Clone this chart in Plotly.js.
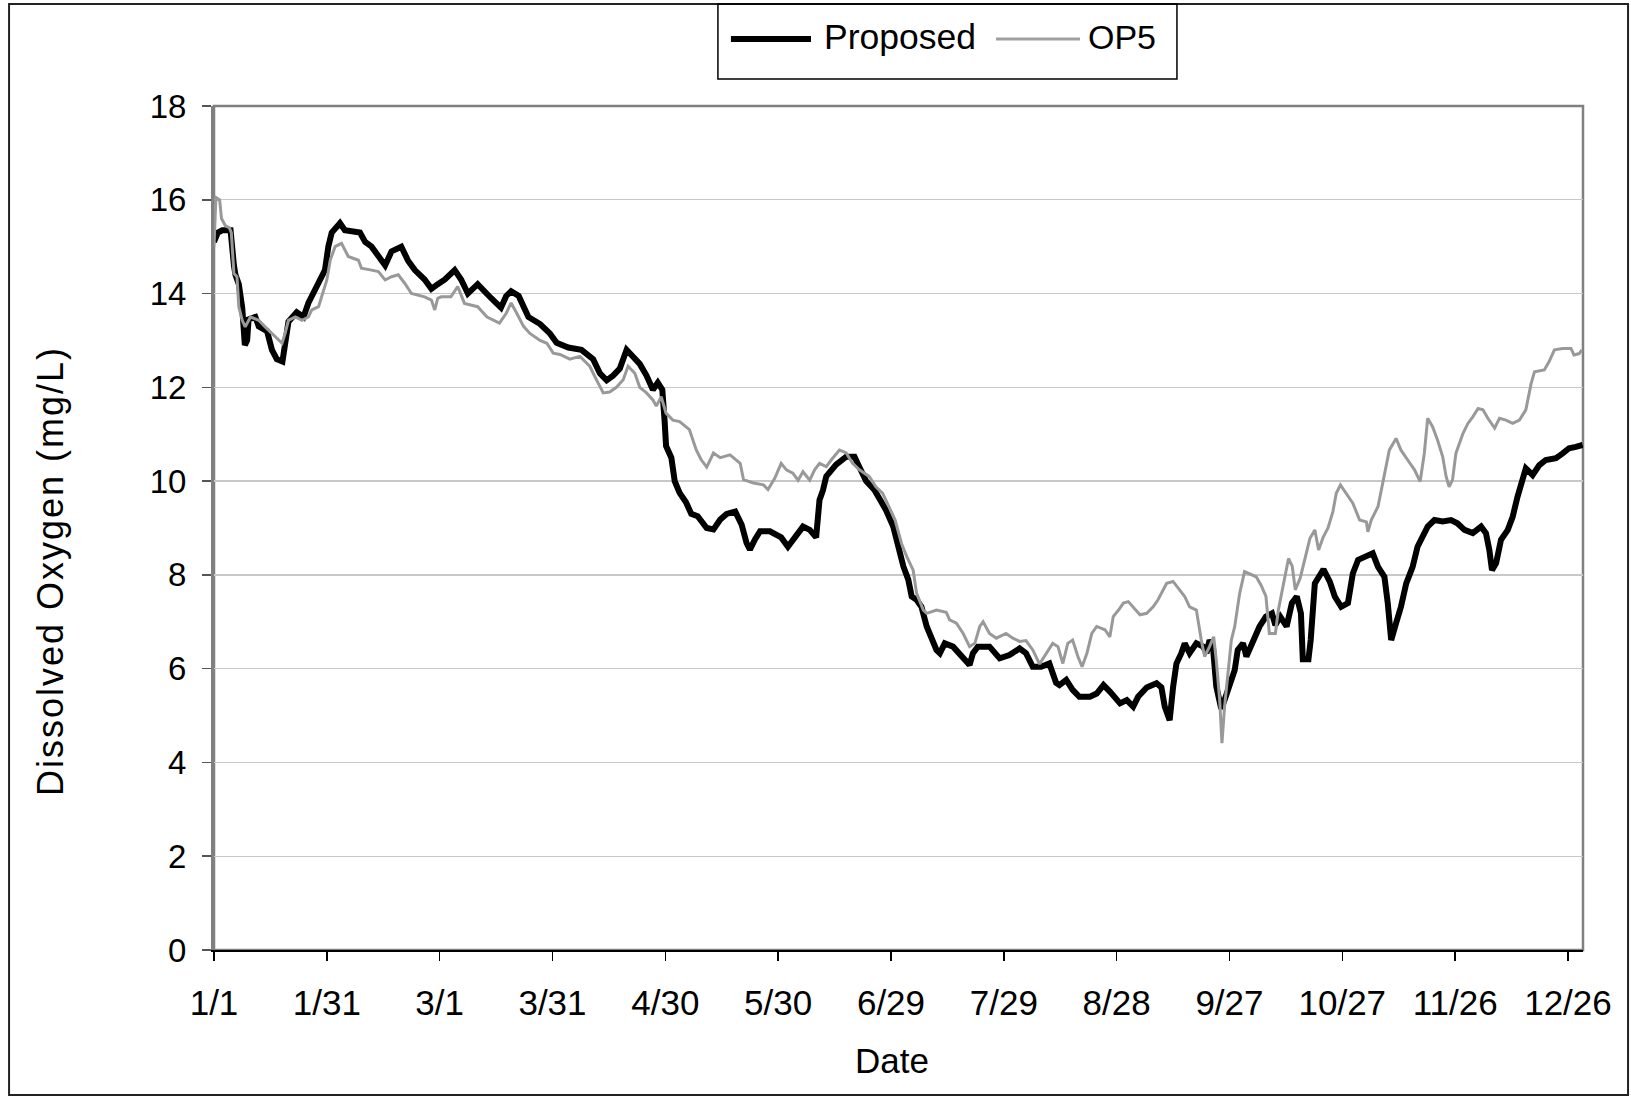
<!DOCTYPE html>
<html>
<head>
<meta charset="utf-8">
<script src="https://cdn.plot.ly/plotly-3.0.1.min.js"></script>
<style>
  html, body { margin: 0; padding: 0; background: #fff; overflow: hidden; }
  #chart { width: 1631px; height: 1098px; }
</style>
</head>
<body>
<div id="chart"></div>
<script>
// Day index from 1/1 (leap year) and dissolved oxygen (mg/L)
const proposedDay = [0,1.0,2.2,4.4,5.3,5.7,6.6,7.5,8.2,8.8,9.2,11.0,11.9,14.1,15.4,16.7,18.2,18.9,19.8,22.0,23.8,25.1,26.4,28.2,29.5,30.4,31.3,33.5,34.8,38.8,40.2,41.9,43.7,45.5,47.2,49.8,51.6,53.4,56.0,57.8,59.5,61.4,64.0,65.7,67.5,70.1,73.7,76.3,77.7,79.0,81.0,82.3,83.6,86.7,89.3,91.1,94.2,97.7,100.8,102.6,104.4,106.1,107.9,109.7,111.4,113.2,115.0,116.7,118.0,119.2,119.8,120.2,121.6,122.5,123.8,125.5,126.9,128.6,131.0,132.8,134.6,136.3,138.6,140.3,141.6,142.5,143.8,145.2,147.8,150.8,152.6,154.6,156.6,158.4,160.1,161.0,161.9,162.8,164.1,165.4,168.1,170.3,171.1,173.4,175.6,177.3,178.7,180.6,181.9,183.3,184.6,185.5,186.8,188.1,189.5,190.8,192.1,193.0,194.3,196.5,198.3,200.9,201.8,203.1,206.2,208.9,211.5,214.2,215.9,217.7,219.9,222.1,223.9,224.8,226.6,228.3,230.1,232.9,234.7,236.5,238.2,240.9,242.7,244.4,245.7,248.0,250.6,251.9,252.8,254.1,255.0,255.9,257.2,258.1,259.4,261.2,263.0,263.9,264.7,265.6,266.5,267.8,268.7,270.0,271.4,272.2,273.6,274.5,276.2,278.0,279.7,281.3,282.2,283.5,285.2,286.6,287.9,289.0,289.5,291.0,291.6,292.1,292.7,295.0,296.7,298.0,299.7,301.5,302.8,304.2,306.4,308.1,309.5,311.2,312.1,313.0,314.3,315.6,317.0,318.7,320.0,321.4,322.7,324.5,326.7,328.9,330.6,332.5,334.7,336.9,338.2,339.1,339.8,340.9,342.2,344.0,345.3,346.6,348.0,348.8,350.6,352.4,354.1,356.8,358.6,360.3,362.1,363.9];
const proposedDO = [15.1,15.3,15.35,15.35,14.6,14.4,14.2,13.7,12.9,13.0,13.45,13.5,13.3,13.2,12.8,12.6,12.55,13.0,13.4,13.6,13.5,13.8,14.0,14.3,14.5,15.0,15.3,15.5,15.35,15.3,15.1,15.0,14.8,14.6,14.9,15.0,14.7,14.5,14.3,14.1,14.2,14.3,14.5,14.3,14.0,14.2,13.9,13.7,13.95,14.05,13.95,13.7,13.5,13.35,13.15,12.95,12.85,12.8,12.6,12.3,12.15,12.25,12.4,12.8,12.65,12.5,12.25,11.95,12.1,11.95,11.3,10.75,10.5,10.0,9.75,9.55,9.3,9.25,9.0,8.97,9.18,9.3,9.35,9.07,8.68,8.54,8.75,8.93,8.93,8.8,8.6,8.8,9.03,8.96,8.8,9.6,9.8,10.1,10.24,10.35,10.52,10.52,10.38,10.0,9.81,9.6,9.38,9.03,8.6,8.18,7.9,7.54,7.47,7.32,6.9,6.68,6.4,6.33,6.54,6.47,6.29,6.08,6.33,6.47,6.47,6.22,6.29,6.43,6.33,6.04,6.04,6.11,5.7,5.65,5.76,5.55,5.4,5.4,5.47,5.65,5.51,5.26,5.33,5.19,5.4,5.6,5.69,5.6,5.19,4.9,5.6,6.11,6.33,6.54,6.33,6.54,6.47,6.33,6.61,6.47,5.62,5.15,5.33,5.62,5.97,6.4,6.54,6.26,6.61,6.9,7.11,7.18,6.93,7.11,6.9,7.4,7.54,7.18,6.2,6.2,6.61,7.32,7.82,8.12,7.85,7.54,7.32,7.4,8.03,8.32,8.39,8.46,8.17,7.96,7.39,6.61,6.97,7.32,7.82,8.17,8.6,8.82,9.03,9.17,9.14,9.17,9.1,8.96,8.89,9.03,8.89,8.53,8.1,8.25,8.75,8.96,9.24,9.67,10.1,10.27,10.13,10.34,10.45,10.49,10.59,10.7,10.73,10.77];

const op5Day = [0,0.5,1.5,2.0,3.0,4.1,4.6,5.3,6.1,6.6,7.5,8.3,9.7,11.9,13.6,15.4,17.2,18.1,18.9,19.8,21.6,23.4,25.1,26.0,27.8,28.6,30.0,30.9,32.2,33.9,35.7,38.4,39.2,41.9,43.7,45.5,47.2,49.0,50.7,52.5,56.0,57.8,58.7,59.5,60.4,63.0,64.8,66.6,70.1,72.6,75.9,77.7,79.0,80.5,82.3,84.0,86.7,88.5,90.2,92.0,94.6,97.3,99.9,101.7,103.5,105.2,107.0,108.8,110.1,111.9,113.2,115.0,116.7,117.6,118.9,120.2,122.0,123.8,126.4,128.2,129.5,131.0,132.8,134.6,137.2,139.9,140.8,143.4,146.1,147.3,149.1,150.8,152.2,153.9,155.3,156.6,158.4,159.7,161.0,162.8,164.1,166.3,168.1,169.8,171.6,174.2,176.0,177.8,179.5,181.1,182.8,184.2,185.9,186.8,188.6,189.5,192.1,194.7,195.6,197.4,199.2,200.9,202.3,203.6,204.5,206.2,208.0,210.6,212.4,214.2,215.9,217.7,219.5,221.3,223.0,224.4,225.7,227.0,228.3,229.7,230.8,232.1,233.4,234.7,236.9,238.2,239.1,240.5,241.8,243.1,244.4,246.2,248.0,249.7,251.0,252.4,253.3,255.0,256.8,258.1,259.4,261.2,262.5,263.4,264.7,265.8,266.5,267.4,268.0,268.7,269.6,270.5,271.4,272.7,274.0,275.3,277.1,278.4,279.7,280.6,282.2,283.0,284.4,285.7,286.7,287.5,288.8,290.1,291.4,292.7,293.7,294.9,296.2,297.5,298.4,299.5,301.1,302.8,304.6,306.4,306.8,307.7,309.5,311.2,312.5,314.3,315.6,317.4,319.2,320.7,321.8,322.7,324.0,325.3,326.7,327.6,328.4,329.3,330.2,332.1,333.4,334.7,336.1,337.4,338.7,340.5,341.8,343.5,345.3,347.1,348.8,350.2,351.1,353.7,355.0,356.4,358.6,360.8,361.6,363.0,363.7];
const op5DO = [15.0,16.05,16.0,15.6,15.45,15.4,15.3,14.43,14.36,13.72,13.43,13.29,13.5,13.43,13.29,13.15,13.0,12.94,13.15,13.43,13.5,13.43,13.5,13.65,13.72,13.93,14.29,14.71,15.0,15.07,14.79,14.71,14.54,14.5,14.47,14.29,14.36,14.4,14.22,14.0,13.93,13.86,13.65,13.9,13.93,13.93,14.15,13.79,13.72,13.5,13.37,13.58,13.8,13.58,13.3,13.15,13.0,12.94,12.73,12.7,12.6,12.66,12.45,12.16,11.88,11.9,12.0,12.16,12.45,12.3,12.0,11.88,11.73,11.6,11.8,11.45,11.3,11.27,11.1,10.67,10.46,10.3,10.6,10.5,10.56,10.38,10.03,9.96,9.92,9.82,10.06,10.38,10.24,10.17,10.02,10.2,10.02,10.24,10.38,10.31,10.45,10.66,10.6,10.38,10.24,10.1,9.88,9.74,9.46,9.17,8.67,8.39,8.1,7.61,7.25,7.18,7.25,7.2,7.04,6.97,6.75,6.47,6.54,6.9,7.0,6.75,6.65,6.75,6.65,6.58,6.6,6.4,6.1,6.33,6.54,6.47,6.11,6.54,6.61,6.26,6.04,6.33,6.75,6.9,6.83,6.68,7.11,7.25,7.4,7.43,7.32,7.15,7.18,7.32,7.47,7.68,7.82,7.86,7.68,7.54,7.32,7.25,6.61,6.26,6.47,6.68,6.18,5.33,4.41,5.19,5.9,6.61,6.9,7.6,8.07,8.03,7.96,7.78,7.54,6.75,6.75,7.25,7.82,8.35,8.18,7.68,7.93,8.39,8.78,8.96,8.53,8.8,9.0,9.35,9.74,9.92,9.74,9.53,9.17,9.13,8.92,9.17,9.46,10.1,10.66,10.91,10.66,10.45,10.24,9.99,10.59,11.34,11.16,10.88,10.52,10.1,9.88,10.02,10.59,11.02,11.23,11.37,11.55,11.52,11.34,11.13,11.34,11.3,11.23,11.3,11.52,12.08,12.33,12.37,12.55,12.8,12.83,12.83,12.69,12.72,12.8];

const seriesNames = ['Proposed', 'OP5'];
const tickDays = [0,30,60,90,120,150,180,210,240,270,300,330,360];
const tickLabels = ['1/1','1/31','3/1','3/31','4/30','5/30','6/29','7/29','8/28','9/27','10/27','11/26','12/26'];
const xTitle = 'Date';
const yTitle = 'Dissolved Oxygen (mg/L)';

const FONT = 'Liberation Sans, Arial, Helvetica, sans-serif';

const data = [
  { x: proposedDay, y: proposedDO, name: seriesNames[0], type: 'scatter', mode: 'lines',
    line: { color: '#000000', width: 6, shape: 'linear' } },
  { x: op5Day, y: op5DO, name: seriesNames[1], type: 'scatter', mode: 'lines',
    line: { color: '#999999', width: 3, shape: 'linear' } }
];

const layout = {
  width: 1631, height: 1098,
  margin: { l: 214, r: 48, t: 106, b: 148, pad: 0 },
  paper_bgcolor: '#ffffff', plot_bgcolor: '#ffffff',
  font: { family: FONT, color: '#000000' },
  showlegend: false,
  xaxis: {
    range: [0, 364], tickmode: 'array', tickvals: tickDays, ticktext: tickLabels,
    ticks: 'outside', ticklen: 9, tickwidth: 1.5, tickcolor: '#000000',
    showline: true, linecolor: '#000000', linewidth: 2,
    showgrid: false, zeroline: false,
    tickfont: { family: FONT, size: 35, color: '#000000' },
    ticklabelstandoff: 12
  },
  yaxis: {
    range: [0, 18], tickmode: 'linear', tick0: 0, dtick: 2,
    ticks: 'outside', ticklen: 9, tickwidth: 1.5, tickcolor: '#555555',
    showline: true, linecolor: '#808080', linewidth: 3,
    showgrid: true, gridcolor: '#c8c8c8', gridwidth: 1.3, zeroline: false,
    tickfont: { family: FONT, size: 33, color: '#000000' },
    ticklabelstandoff: 9
  },
  shapes: [
    // plot area frame
    { type: 'rect', xref: 'paper', yref: 'paper', x0: 0, x1: 1, y0: 0, y1: 1,
      line: { color: '#808080', width: 2.5 }, layer: 'below' },
    // outer chart border
    { type: 'rect', xref: 'paper', yref: 'paper', x0: -0.1497, x1: 1.0329, y0: -0.1718, y1: 1.1209,
      line: { color: '#222222', width: 2 } },
    // legend box
    { type: 'rect', xref: 'paper', yref: 'paper', x0: 0.3681, x1: 0.7034, y0: 1.0320, y1: 1.1209,
      line: { color: '#000000', width: 1.5 }, fillcolor: 'rgba(0,0,0,0)' },
    // legend samples
    { type: 'line', xref: 'paper', yref: 'paper', x0: 0.3776, x1: 0.4361, y0: 1.0794, y1: 1.0794,
      line: { color: '#000000', width: 6 } },
    { type: 'line', xref: 'paper', yref: 'paper', x0: 0.5712, x1: 0.6326, y0: 1.0794, y1: 1.0794,
      line: { color: '#a0a0a0', width: 3 } }
  ],
  annotations: [
    { text: seriesNames[0], xref: 'paper', yref: 'paper', x: 0.4440, y: 1.0818,
      xanchor: 'left', yanchor: 'middle', showarrow: false, font: { family: FONT, size: 35.5, color: '#000' } },
    { text: seriesNames[1], xref: 'paper', yref: 'paper', x: 0.6370, y: 1.0818,
      xanchor: 'left', yanchor: 'middle', showarrow: false, font: { family: FONT, size: 34, color: '#000' } },
    { text: yTitle, xref: 'paper', yref: 'paper', x: -0.1198, y: 0.449, textangle: -90,
      xanchor: 'center', yanchor: 'middle', showarrow: false, font: { family: FONT, size: 36, color: '#000' } },
    { text: xTitle, xref: 'paper', yref: 'paper', x: 0.4953, y: -0.1315,
      xanchor: 'center', yanchor: 'middle', showarrow: false, font: { family: FONT, size: 35, color: '#000' } }
  ]
};

Plotly.newPlot('chart', data, layout, { staticPlot: true, displayModeBar: false }).then(function () {
  document.querySelectorAll('.annotation-text').forEach(function (t) {
    if (t.textContent === yTitle) t.style.letterSpacing = '2px';
  });
});
</script>
</body>
</html>
